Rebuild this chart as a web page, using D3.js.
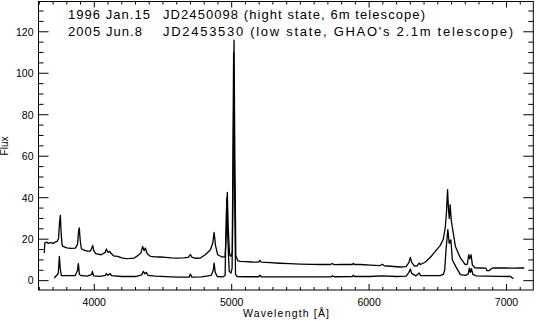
<!DOCTYPE html>
<html>
<head>
<meta charset="utf-8">
<script src="https://cdn.jsdelivr.net/npm/d3@7"></script>
<style>
  body { margin: 0; background: #fff; }
  svg text { font-family: "Liberation Sans", Helvetica, Arial, sans-serif; fill: #000; }
</style>
</head>
<body>
<svg id="chart" width="537" height="321"></svg>
<script>
// ---- data ----
// 1996 Jan.15 spectrum (high state)
var highWave = [3636, 3640, 3655, 3665, 3680, 3700, 3715, 3730, 3740, 3747, 3753, 3758, 3765, 3772, 3800, 3830, 3862, 3878, 3886, 3891, 3898, 3906, 3920, 3950, 3972, 3982, 3989, 3996, 4010, 4050, 4078, 4088, 4100, 4112, 4120, 4140, 4170, 4200, 4230, 4262, 4290, 4320, 4340, 4352, 4362, 4372, 4385, 4410, 4440, 4480, 4520, 4560, 4600, 4650, 4685, 4699, 4712, 4740, 4772, 4810, 4845, 4862, 4872, 4882, 4898, 4930, 4952, 4962, 4968, 4975, 4985, 4995, 5005, 5012, 5017, 5023, 5030, 5045, 5063, 5100, 5150, 5195, 5205, 5215, 5280, 5350, 5420, 5500, 5580, 5650, 5720, 5733, 5745, 5800, 5878, 5885, 5895, 5936, 6009, 6080, 6096, 6110, 6227, 6270, 6290, 6300, 6310, 6330, 6350, 6364, 6374, 6410, 6446, 6482, 6518, 6540, 6555, 6563, 6571, 6578, 6584, 6590, 6598, 6610, 6628, 6664, 6700, 6715, 6725, 6733, 6742, 6752, 6770, 6810, 6850, 6858, 6872, 6890, 6900, 6950, 7000, 7050, 7100, 7125, 7130];
var highFlux = [13.3, 18.2, 18.6, 17.9, 18.4, 18.0, 18.6, 18.9, 20.5, 28.0, 31.5, 24.0, 17.5, 16.5, 15.8, 15.6, 15.7, 17.5, 24.0, 25.4, 19.0, 15.4, 14.9, 14.2, 14.3, 15.8, 17.0, 14.5, 13.0, 12.5, 13.5, 15.3, 13.6, 14.1, 13.3, 12.0, 11.7, 11.0, 10.6, 10.7, 10.9, 12.2, 13.5, 16.5, 14.5, 15.7, 13.0, 11.7, 11.5, 11.4, 11.2, 11.0, 10.9, 11.0, 11.2, 12.6, 11.2, 10.8, 10.9, 12.6, 14.9, 18.0, 23.3, 17.0, 12.5, 11.4, 11.6, 25.0, 42.5, 25.0, 12.5, 11.7, 14.0, 60.0, 116.0, 60.0, 12.0, 9.6, 9.3, 9.2, 9.0, 8.9, 9.8, 8.9, 8.7, 8.4, 8.2, 8.0, 7.9, 7.8, 7.8, 8.3, 7.7, 7.8, 7.8, 8.3, 7.8, 7.8, 7.5, 7.3, 7.9, 7.2, 6.6, 6.8, 8.8, 11.2, 8.8, 7.0, 7.2, 8.5, 7.8, 9.0, 11.3, 14.1, 17.0, 20.0, 26.0, 33.0, 43.9, 34.0, 30.0, 36.6, 29.0, 24.0, 16.5, 11.0, 7.7, 8.0, 12.5, 10.5, 12.5, 7.5, 6.2, 6.1, 6.0, 4.8, 4.8, 5.8, 6.1, 6.2, 6.1, 6.0, 6.2, 6.1, 6.2, 0.5];

// 2005 Jun.8 spectrum (low state)
var lowWave = [3709, 3725, 3738, 3746, 3752, 3760, 3800, 3862, 3878, 3884, 3892, 3906, 3950, 3982, 3986, 3995, 4040, 4082, 4088, 4100, 4117, 4125, 4200, 4300, 4345, 4357, 4368, 4379, 4390, 4444, 4520, 4600, 4690, 4699, 4710, 4780, 4850, 4866, 4872, 4880, 4895, 4935, 4952, 4960, 4965, 4972, 4982, 4995, 5003, 5010, 5014, 5020, 5028, 5040, 5100, 5195, 5205, 5215, 5350, 5500, 5725, 5733, 5745, 5878, 5885, 5895, 6000, 6096, 6200, 6270, 6290, 6300, 6310, 6340, 6364, 6375, 6450, 6520, 6540, 6550, 6560, 6573, 6583, 6595, 6606, 6630, 6664, 6700, 6720, 6730, 6737, 6745, 6755, 6780, 6850, 6950, 7030, 7045, 7050];
var lowFlux = [1.3, 2.5, 3.5, 11.7, 6.0, 2.5, 2.4, 2.5, 5.0, 8.2, 3.0, 2.4, 2.2, 3.0, 4.5, 2.3, 2.1, 2.6, 3.4, 2.6, 3.4, 2.4, 2.0, 2.0, 2.8, 4.5, 3.3, 4.0, 2.6, 2.2, 1.9, 1.7, 1.7, 3.2, 1.7, 1.8, 2.5, 5.0, 8.5, 4.0, 2.0, 1.8, 2.5, 30.0, 40.0, 20.0, 4.5, 3.7, 6.0, 70.0, 110.0, 50.0, 3.0, 2.0, 1.9, 1.9, 2.6, 1.9, 1.8, 1.8, 1.9, 2.4, 1.9, 2.0, 2.6, 2.0, 2.0, 2.3, 2.0, 2.2, 4.0, 5.6, 3.5, 2.3, 3.7, 2.4, 2.4, 2.5, 3.0, 5.0, 15.0, 24.6, 18.0, 19.7, 10.0, 6.9, 2.9, 2.6, 3.0, 6.1, 4.0, 5.8, 3.0, 2.3, 2.2, 2.1, 2.0, 1.2, 1.0];

var xMajorTicks = [4000, 5000, 6000, 7000];
var yMajorTicks = [0, 20, 40, 60, 80, 100, 120];

var label1Date = "1996 Jan.15", label1Text = "JD2450098 (hight state, 6m telescope)";
var label2Date = "2005 Jun.8",  label2Text = "JD2453530 (low state, GHAO's 2.1m telescope)";

// ---- layout ----
var plotL = 38.5, plotR = 533.3, plotT = 1.5, plotB = 290;
var svg = d3.select("#chart");

var x = d3.scaleLinear().domain([3594, 7195]).range([plotL, plotR]);
var y = d3.scaleLinear().domain([-4.5, 134.6]).range([plotB, plotT]);

var xMinor = d3.range(3600, 7200, 100).filter(function(v) {return xMajorTicks.indexOf(v) < 0;});
var yMinor = d3.range(0, 135, 5).filter(function(v) {return yMajorTicks.indexOf(v) < 0;});

// frame
svg.append("rect")
  .attr("x", plotL).attr("y", plotT)
  .attr("width", plotR - plotL).attr("height", plotB - plotT)
  .attr("fill", "none").attr("stroke", "#000").attr("stroke-width", 1);

// ticks (inward, on all four sides)
var tickG = svg.append("g").attr("stroke", "#000").attr("stroke-width", 1);
function xTicks(vals, len) {
  vals.forEach(function(v) {
    tickG.append("line").attr("x1", x(v)).attr("x2", x(v)).attr("y1", plotB).attr("y2", plotB - len);
    tickG.append("line").attr("x1", x(v)).attr("x2", x(v)).attr("y1", plotT).attr("y2", plotT + len);
  });
}
function yTicks(vals, len) {
  vals.forEach(function(v) {
    tickG.append("line").attr("x1", plotL).attr("x2", plotL + len).attr("y1", y(v)).attr("y2", y(v));
    tickG.append("line").attr("x1", plotR).attr("x2", plotR - len).attr("y1", y(v)).attr("y2", y(v));
  });
}
xTicks(xMajorTicks, 6);
xTicks(xMinor, 3);
yTicks(yMajorTicks, 10);
yTicks(yMinor, 5);

// tick labels
svg.append("g").selectAll("text").data(xMajorTicks).enter().append("text")
  .attr("x", function(d) {return x(d);})
  .attr("y", 306)
  .attr("text-anchor", "middle")
  .attr("font-size", 10.5)
  .text(function(d) {return d;});

svg.append("g").selectAll("text").data(yMajorTicks).enter().append("text")
  .attr("x", 33.5)
  .attr("y", function(d) {return y(d) + 3.8;})
  .attr("text-anchor", "end")
  .attr("font-size", 10.5)
  .text(function(d) {return d;});

// axis titles
svg.append("text")
  .attr("x", 286).attr("y", 317)
  .attr("text-anchor", "middle")
  .attr("font-size", 10.5)
  .attr("textLength", 86)
  .text("Wavelength [\u00c5]");

svg.append("text")
  .attr("transform", "translate(8,146) rotate(-90)")
  .attr("text-anchor", "middle")
  .attr("font-size", 10)
  .text("Flux");

// spectra
var line = d3.line()
  .x(function(d) {return x(d[0]);})
  .y(function(d) {return y(d[1]);});

[[highWave, highFlux], [lowWave, lowFlux]].forEach(function(s) {
  svg.append("path")
    .datum(d3.zip(s[0], s[1]))
    .attr("d", line)
    .attr("fill", "none")
    .attr("stroke", "#000")
    .attr("stroke-width", 1.3)
    .attr("stroke-linejoin", "round");
});

// annotation
function note(txt, xPos, yPos, len) {
  svg.append("text")
    .attr("x", xPos).attr("y", yPos)
    .attr("font-size", 13)
    .attr("textLength", len)
    .text(txt);
}
note(label1Date, 68, 18.5, 82);
note(label1Text, 163, 18.5, 262);
note(label2Date, 68, 35.5, 74);
note(label2Text, 163, 35.5, 350);
</script>
</body>
</html>
